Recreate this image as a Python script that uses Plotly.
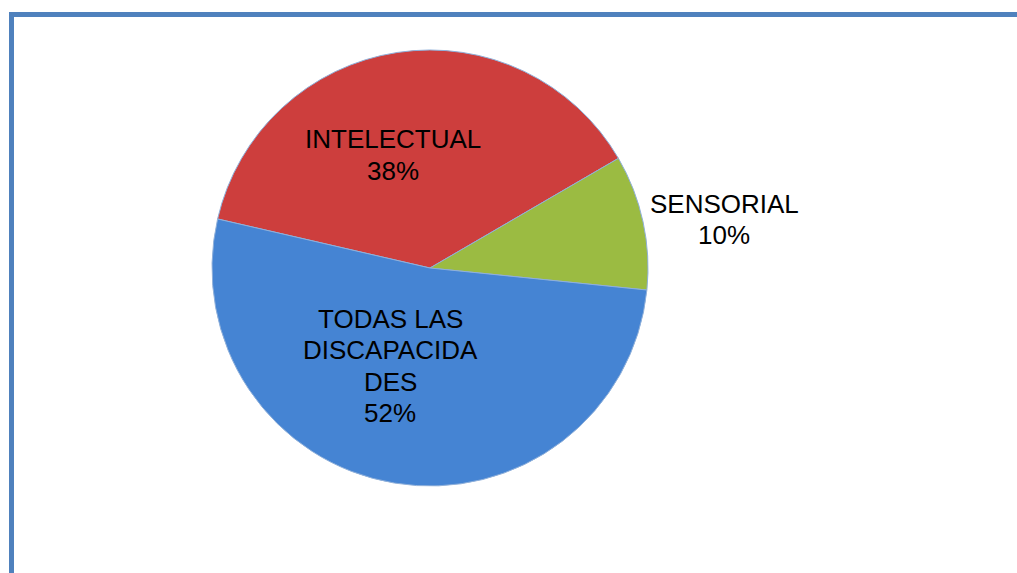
import plotly.graph_objects as go

labels = ["INTELECTUAL", "SENSORIAL", "TODAS LAS<br>DISCAPACIDA<br>DES"]
values = [38, 10, 52]
colors = ["#CD3E3D", "#9BBB42", "#4584D3"]

W, H = 1017, 573
cx, cy, r = 430, 268, 218
label_centers = [(393, 155), (724, 219.5), (390, 366)]
line_gap = 31.5

fig = go.Figure(go.Pie(
    labels=labels,
    values=values,
    sort=False,
    direction="clockwise",
    rotation=-77,
    marker=dict(colors=colors, line=dict(color="#8FB0DA", width=1)),
    textinfo="none",
    showlegend=False,
    hoverinfo="label+percent",
    domain=dict(x=[(cx - r) / W, (cx + r) / W], y=[(H - cy - r) / H, (H - cy + r) / H]),
    automargin=False,
))

total = sum(values)
annotations = []
for lab, val, (x, y) in zip(labels, values, label_centers):
    lines = lab.split("<br>") + [f"{round(100 * val / total)}%"]
    n = len(lines)
    for i, ln in enumerate(lines):
        yy = y + (i - (n - 1) / 2) * line_gap
        annotations.append(dict(
            text=ln, x=x / W, y=1 - yy / H, xref="paper", yref="paper",
            showarrow=False, xanchor="center", yanchor="middle",
            font=dict(family="Liberation Sans, Arial", size=26, color="black"),
        ))

fig.update_layout(
    width=W, height=H,
    margin=dict(l=0, r=0, t=0, b=0),
    paper_bgcolor="white",
    plot_bgcolor="white",
    annotations=annotations,
    shapes=[
        dict(type="line", xref="paper", yref="paper", x0=11.5 / W, x1=1.0,
             y0=1 - 14.5 / H, y1=1 - 14.5 / H,
             line=dict(color="#4F81BD", width=5)),
        dict(type="line", xref="paper", yref="paper", x0=11.5 / W, x1=11.5 / W,
             y0=1 - 12 / H, y1=0,
             line=dict(color="#4F81BD", width=5)),
    ],
)

fig.write_html("out.html", config={"displayModeBar": False},
               post_script="document.body.style.margin='0';document.body.style.overflow='hidden';")
